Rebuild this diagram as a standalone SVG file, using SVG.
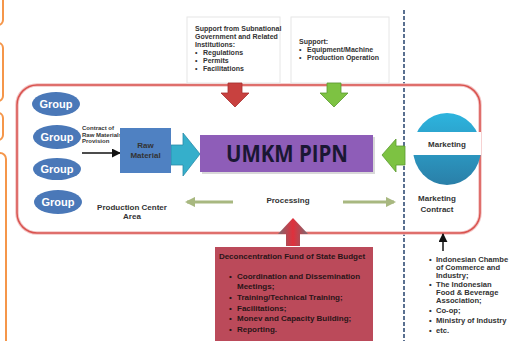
<svg xmlns="http://www.w3.org/2000/svg" width="511" height="341" viewBox="0 0 511 341">
<defs>
<style>
.t{font-family:"Liberation Sans",Arial,sans-serif;font-weight:bold;fill:#333;}
.s7{font-size:7px;}
.s75{font-size:7.6px;}
.s8{font-size:8px;}
.b{font-family:"Liberation Sans",Arial,sans-serif;font-weight:bold;font-size:8px;fill:#2A1518;}
.grp{fill:#4A78B8;}
.gt{font-family:"Liberation Sans",Arial,sans-serif;font-weight:bold;font-size:11px;fill:#fff;text-anchor:middle;}
.orange{fill:none;stroke:#F5964A;stroke-width:2;}
</style>
<marker id="ah" viewBox="0 0 10 10" refX="9" refY="5" markerWidth="6" markerHeight="6" orient="auto"><path d="M0,0 L10,5 L0,10 z" fill="#111"/></marker>
<marker id="oa" viewBox="0 0 10 10" refX="8" refY="5" markerWidth="3.5" markerHeight="3.5" orient="auto-start-reverse"><path d="M0,0 L10,5 L0,10 z" fill="#A8B880"/></marker>
<linearGradient id="mk" x1="0" y1="0" x2="0" y2="1"><stop offset="0" stop-color="#2DB4DE"/><stop offset="1" stop-color="#2A7FA8"/></linearGradient>
<linearGradient id="ua" x1="0" y1="0" x2="1" y2="0"><stop offset="0" stop-color="#7A6A72"/><stop offset="0.5" stop-color="#E0303C"/><stop offset="1" stop-color="#7A6A72"/></linearGradient>
</defs>

<!-- left orange partial boxes -->
<g id="left-edge">
<rect class="orange" x="-20" y="-20" width="23" height="45" rx="5"/>
<rect class="orange" x="-20" y="43" width="23" height="58" rx="5"/>
<rect class="orange" x="-20" y="113" width="23" height="27" rx="5"/>
<rect class="orange" x="-20" y="153" width="26" height="210" rx="6"/>
</g>

<!-- dashed divider -->
<line x1="404" y1="10" x2="404" y2="341" stroke="#5A7090" stroke-width="2" stroke-dasharray="4,2"/>

<!-- production center frame -->
<g id="frame">
<rect x="17" y="85" width="463" height="148" rx="20" fill="none" stroke="#F3C4C4" stroke-width="3.5"/>
<rect x="17" y="85" width="463" height="148" rx="20" fill="none" stroke="#D9534F" stroke-width="1.5"/>
</g>

<g id="support-gov">
<rect x="187" y="17" width="93" height="66" fill="#fff" stroke="#E6E6E6" stroke-width="1"/>
<text class="t s7" x="195" y="31">Support from Subnational</text>
<text class="t s7" x="195" y="39">Government and Related</text>
<text class="t s7" x="195" y="47">Institutions:</text>
<text class="t s7" x="195" y="55">•</text><text class="t s7" x="203" y="55">Regulations</text>
<text class="t s7" x="195" y="63">•</text><text class="t s7" x="203" y="63">Permits</text>
<text class="t s7" x="195" y="71">•</text><text class="t s7" x="203" y="71">Facilitations</text>
</g>

<g id="support-equip">
<rect x="291" y="17" width="98" height="66" fill="#fff" stroke="#E6E6E6" stroke-width="1"/>
<text class="t s7" x="299" y="44">Support:</text>
<text class="t s7" x="299" y="52">•</text><text class="t s7" x="307" y="52">Equipment/Machine</text>
<text class="t s7" x="299" y="60">•</text><text class="t s7" x="307" y="60">Production Operation</text>
</g>

<g id="connectors">
<!-- red down arrow -->
<path d="M228,83 L242,83 L242,93 L249,93 L235,107 L221,93 L228,93 z" fill="#C8413F" stroke="#A83030" stroke-width="0.8"/>
<!-- green down arrow -->
<path d="M327,83 L341,83 L341,93 L348,93 L334,107 L320,93 L327,93 z" fill="#7DC242" stroke="#5A9A30" stroke-width="0.8"/>
<!-- cyan arrow -->
<path d="M171,145 L183,145 L183,133 L200,154 L183,176 L183,165 L171,165 z" fill="#35AFCB" stroke="#2A8CA8" stroke-width="0.8"/>
<!-- green left arrow -->
<path d="M405,146 L396,146 L396,139 L382,155 L396,172 L396,165 L405,165 z" fill="#7DC242" stroke="#5A9A30" stroke-width="0.8"/>
<!-- contract arrow -->
<line x1="82" y1="153" x2="120" y2="153" stroke="#111" stroke-width="1.5" marker-end="url(#ah)"/>
<!-- olive double arrow -->
<line x1="187" y1="202" x2="394" y2="202" stroke="#A8B880" stroke-width="3" marker-start="url(#oa)" marker-end="url(#oa)"/>
<!-- up arrow from budget -->
<path d="M286,246 L300,246 L300,234 L308,234 L293,218 L278,234 L286,234 z" fill="url(#ua)"/>
<!-- marketing contract arrow -->
<line x1="443" y1="251" x2="443" y2="234" stroke="#111" stroke-width="1.5" marker-end="url(#ah)"/>
</g>

<g id="groups">
<g id="group1"><ellipse class="grp" cx="56" cy="104" rx="24" ry="12"/><text class="gt" x="56" y="108">Group</text></g>
<g id="group2"><ellipse class="grp" cx="57" cy="137" rx="24" ry="12"/><text class="gt" x="57" y="141">Group</text></g>
<g id="group3"><ellipse class="grp" cx="57" cy="169" rx="24" ry="11"/><text class="gt" x="57" y="173">Group</text></g>
<g id="group4"><ellipse class="grp" cx="58" cy="202" rx="24" ry="12"/><text class="gt" x="58" y="206">Group</text></g>
</g>

<g id="contract-label">
<text class="t" font-size="6" x="82" y="130">Contract of</text>
<text class="t" font-size="6" x="82" y="137">Raw Materials'</text>
<text class="t" font-size="6" x="82" y="143">Provision</text>
</g>

<g id="raw-material">
<rect x="120" y="128" width="51" height="45" fill="#4F81C2"/>
<text class="t s8" x="145.5" y="148" text-anchor="middle" fill="#222">Raw</text>
<text class="t s8" x="145.5" y="158" text-anchor="middle" fill="#222">Material</text>
</g>

<g id="umkm">
<rect x="202" y="137" width="173" height="37" fill="#D8D8D8"/>
<rect x="200" y="135" width="173" height="37" fill="#8E5DB8"/>
<text x="287" y="162" text-anchor="middle" font-family="'Open Sans',sans-serif" font-weight="700" font-size="24" textLength="122" lengthAdjust="spacingAndGlyphs" fill="#1A1733">UMKM PIPN</text>
</g>

<g id="production-area">
<text class="t s8" x="132" y="210" text-anchor="middle">Production Center</text>
<text class="t s8" x="132" y="219" text-anchor="middle">Area</text>
</g>

<g id="processing">
<rect x="233" y="187" width="110" height="30" fill="#fff"/>
<text class="t s8" x="288" y="203" text-anchor="middle">Processing</text>
</g>

<g id="marketing">
<ellipse cx="447" cy="149" rx="34" ry="36" fill="url(#mk)"/>
<rect x="413" y="132" width="68" height="23" fill="#fff"/>
<text class="t s8" x="447" y="147" text-anchor="middle">Marketing</text>
</g>

<g id="marketing-contract">
<text class="t s8" x="437" y="201" text-anchor="middle">Marketing</text>
<text class="t s8" x="437" y="212" text-anchor="middle">Contract</text>
</g>

<g id="budget">
<rect x="215" y="247" width="158" height="100" fill="#BB4A5A"/>
<text class="b" x="292" y="259" text-anchor="middle">Deconcentration Fund of State Budget</text>
<text class="b" x="229" y="279">•</text><text class="b" x="237" y="279">Coordination and Dissemination</text>
<text class="b" x="237" y="289">Meetings;</text>
<text class="b" x="229" y="300">•</text><text class="b" x="237" y="300">Training/Technical Training;</text>
<text class="b" x="229" y="311">•</text><text class="b" x="237" y="311">Facilitations;</text>
<text class="b" x="229" y="321">•</text><text class="b" x="237" y="321">Monev and Capacity Building;</text>
<text class="b" x="229" y="332">•</text><text class="b" x="237" y="332">Reporting.</text>
</g>

<g id="stakeholders">
<text class="t s75" x="429" y="262">•</text><text class="t s75" x="436" y="262">Indonesian Chambe</text>
<text class="t s75" x="436" y="270">of Commerce and</text>
<text class="t s75" x="436" y="278">Industry;</text>
<text class="t s75" x="429" y="287">•</text><text class="t s75" x="436" y="287">The Indonesian</text>
<text class="t s75" x="436" y="295">Food &amp; Beverage</text>
<text class="t s75" x="436" y="303">Association;</text>
<text class="t s75" x="429" y="313">•</text><text class="t s75" x="436" y="313">Co-op;</text>
<text class="t s75" x="429" y="323">•</text><text class="t s75" x="436" y="323">Ministry of Industry</text>
<text class="t s75" x="429" y="333">•</text><text class="t s75" x="436" y="333">etc.</text>
</g>
</svg>
